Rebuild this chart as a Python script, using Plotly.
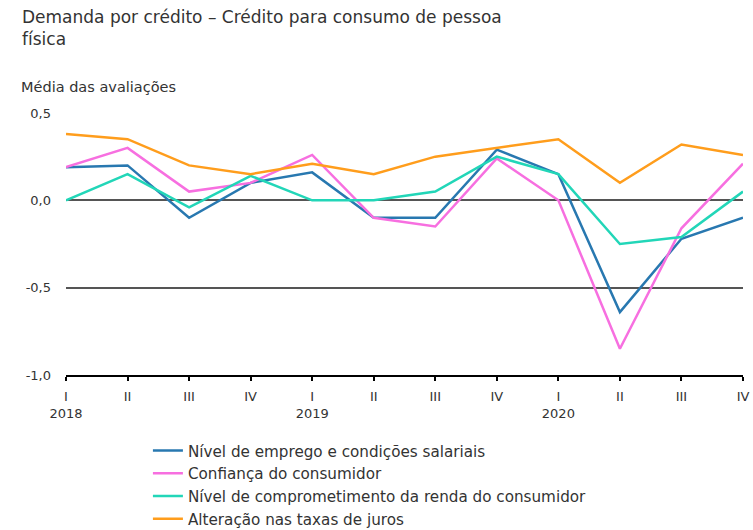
import plotly.graph_objects as go

quarters = ["I", "II", "III", "IV"] * 3
years = ["2018", "2019", "2020"]
categories = [f"{q} {y}" for y in years for q in ["I", "II", "III", "IV"]]
tick_labels = [q + ("<br>" + years[i // 4] if q == "I" else "") for i, q in enumerate(quarters)]

emprego = [0.19, 0.20, -0.10, 0.10, 0.16, -0.10, -0.10, 0.29, 0.15, -0.64, -0.22, -0.10]
confianca = [0.19, 0.30, 0.05, 0.10, 0.26, -0.10, -0.15, 0.24, 0.00, -0.85, -0.16, 0.21]
comprometimento = [0.00, 0.15, -0.04, 0.14, 0.00, 0.00, 0.05, 0.25, 0.15, -0.25, -0.21, 0.05]
juros = [0.38, 0.35, 0.20, 0.15, 0.21, 0.15, 0.25, 0.30, 0.35, 0.10, 0.32, 0.26]

series_names = [
    "Nível de emprego e condições salariais",
    "Confiança do consumidor",
    "Nível de comprometimento da renda do consumidor",
    "Alteração nas taxas de juros",
]
series_values = [emprego, confianca, comprometimento, juros]
colors = ["#2878b0", "#f76fe0", "#22d6b8", "#ff9d1c"]

y_tickvals = [0.5, 0.0, -0.5, -1.0]
y_ticktext = ["0,5", "0,0", "-0,5", "-1,0"]

FONT = "DejaVu Sans, Liberation Sans, Arial, sans-serif"
TXT = "#333333"

fig = go.Figure()
for name, vals, c in zip(series_names, series_values, colors):
    fig.add_trace(go.Scatter(x=categories, y=vals, mode="lines", name=name,
                             line=dict(color=c, width=2.5)))

fig.update_layout(
    width=753, height=530,
    paper_bgcolor="white", plot_bgcolor="white",
    margin=dict(l=66, r=10, t=113, b=155, autoexpand=False),
    font=dict(family=FONT, color=TXT, size=13),
    showlegend=True,
    legend=dict(x=0.121, xanchor="left", y=-0.226, yanchor="top",
                font=dict(size=15.2, color=TXT, family=FONT), tracegroupgap=0,
                itemwidth=30, bgcolor="rgba(0,0,0,0)"),
    annotations=[
        dict(text="Demanda por crédito – Crédito para consumo de pessoa<br>física",
             xref="paper", yref="paper", x=-0.068, xanchor="left", y=1.413, yanchor="top",
             align="left", showarrow=False, font=dict(size=17, color=TXT, family=FONT)),
        dict(text="Média das avaliações", xref="paper", yref="paper",
             x=-0.07, xanchor="left", y=1.06, yanchor="bottom",
             showarrow=False, font=dict(size=14.5, color=TXT, family=FONT)),
    ],
)
fig.update_xaxes(
    type="category", range=[0, 11], tickvals=categories, ticktext=tick_labels,
    showgrid=False, showline=True, linecolor="black", linewidth=2,
    ticks="outside", ticklen=4, tickcolor="black", tickwidth=2,
    ticklabelstandoff=4,
    tickfont=dict(size=13, color=TXT, family=FONT),
)
fig.update_yaxes(
    range=[-1.0, 0.5], tickvals=y_tickvals, ticktext=y_ticktext,
    showgrid=True, gridcolor="#555555", gridwidth=2, zeroline=False,
    showline=False, ticks="", ticklabelstandoff=14,
    tickfont=dict(size=13, color=TXT, family=FONT),
)
fig.write_html("out.html", config={"displayModeBar": False},
               post_script="document.body.style.margin='0px';")
